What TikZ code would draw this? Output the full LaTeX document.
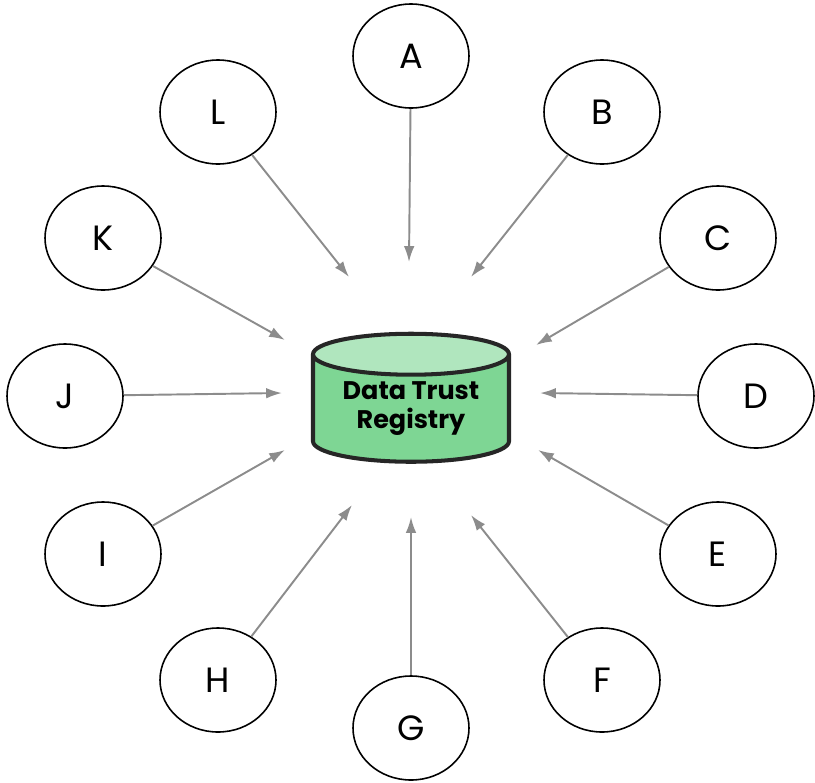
\documentclass[tikz,border=0pt]{standalone}
\usepackage{fontspec}
\setmainfont{Poppins}
\usetikzlibrary{shapes.geometric,arrows.meta}
\newcommand{\px}{0.02cm}
\definecolor{regbody}{HTML}{7ED694}
\definecolor{regtop}{HTML}{B0E6BE}

\begin{document}
\begin{tikzpicture}[x=\px, y=-\px,
    party/.style={draw, ellipse, line width=0.9pt, minimum width=116*\px, minimum height=104*\px, inner sep=0pt, font=\fontsize{20}{24}\selectfont},
    registry/.style={draw=black!85, cylinder, shape border rotate=90, aspect=0.3, line width=2.3pt, minimum width=196*\px, minimum height=128*\px, inner sep=0pt, cylinder uses custom fill, cylinder body fill=regbody, cylinder end fill=regtop, font=\fontsize{14.5}{16.5}\selectfont\bfseries, align=center},
    feed/.style={draw=gray!90, line width=1.1pt, -{Latex[length=9pt, width=6pt]}}]
    \useasboundingbox (0,0) rectangle (815,782);

    % Registry in the middle
    \node[registry] (reg) at (411,409) {Data Trust\\Registry};

    % Parties round it
    \node[party] (A) at (411,56) {A};
    \node[party] (B) at (602,112) {B};
    \node[party] (C) at (718,238) {C};
    \node[party] (D) at (756,396) {D};
    \node[party] (E) at (718,554) {E};
    \node[party] (F) at (602,680) {F};
    \node[party] (G) at (411,728) {G};
    \node[party] (H) at (218,680) {H};
    \node[party] (I) at (103,554) {I};
    \node[party] (J) at (65,396) {J};
    \node[party] (K) at (103,238) {K};
    \node[party] (L) at (218,112) {L};

    % Arrow ends
    \coordinate (tA) at (409,262);
    \coordinate (tB) at (471,277);
    \coordinate (tC) at (536,345);
    \coordinate (tD) at (540,393);
    \coordinate (tE) at (538,450);
    \coordinate (tF) at (471,515);
    \coordinate (tG) at (411,517);
    \coordinate (tH) at (352,505);
    \coordinate (tI) at (285,450);
    \coordinate (tJ) at (282,393);
    \coordinate (tK) at (285,340);
    \coordinate (tL) at (349,277);

    \draw[feed] (A) -- (tA);
    \draw[feed] (B) -- (tB);
    \draw[feed] (C) -- (tC);
    \draw[feed] (D) -- (tD);
    \draw[feed] (E) -- (tE);
    \draw[feed] (F) -- (tF);
    \draw[feed] (G) -- (tG);
    \draw[feed] (H) -- (tH);
    \draw[feed] (I) -- (tI);
    \draw[feed] (J) -- (tJ);
    \draw[feed] (K) -- (tK);
    \draw[feed] (L) -- (tL);

\end{tikzpicture}
\end{document}
